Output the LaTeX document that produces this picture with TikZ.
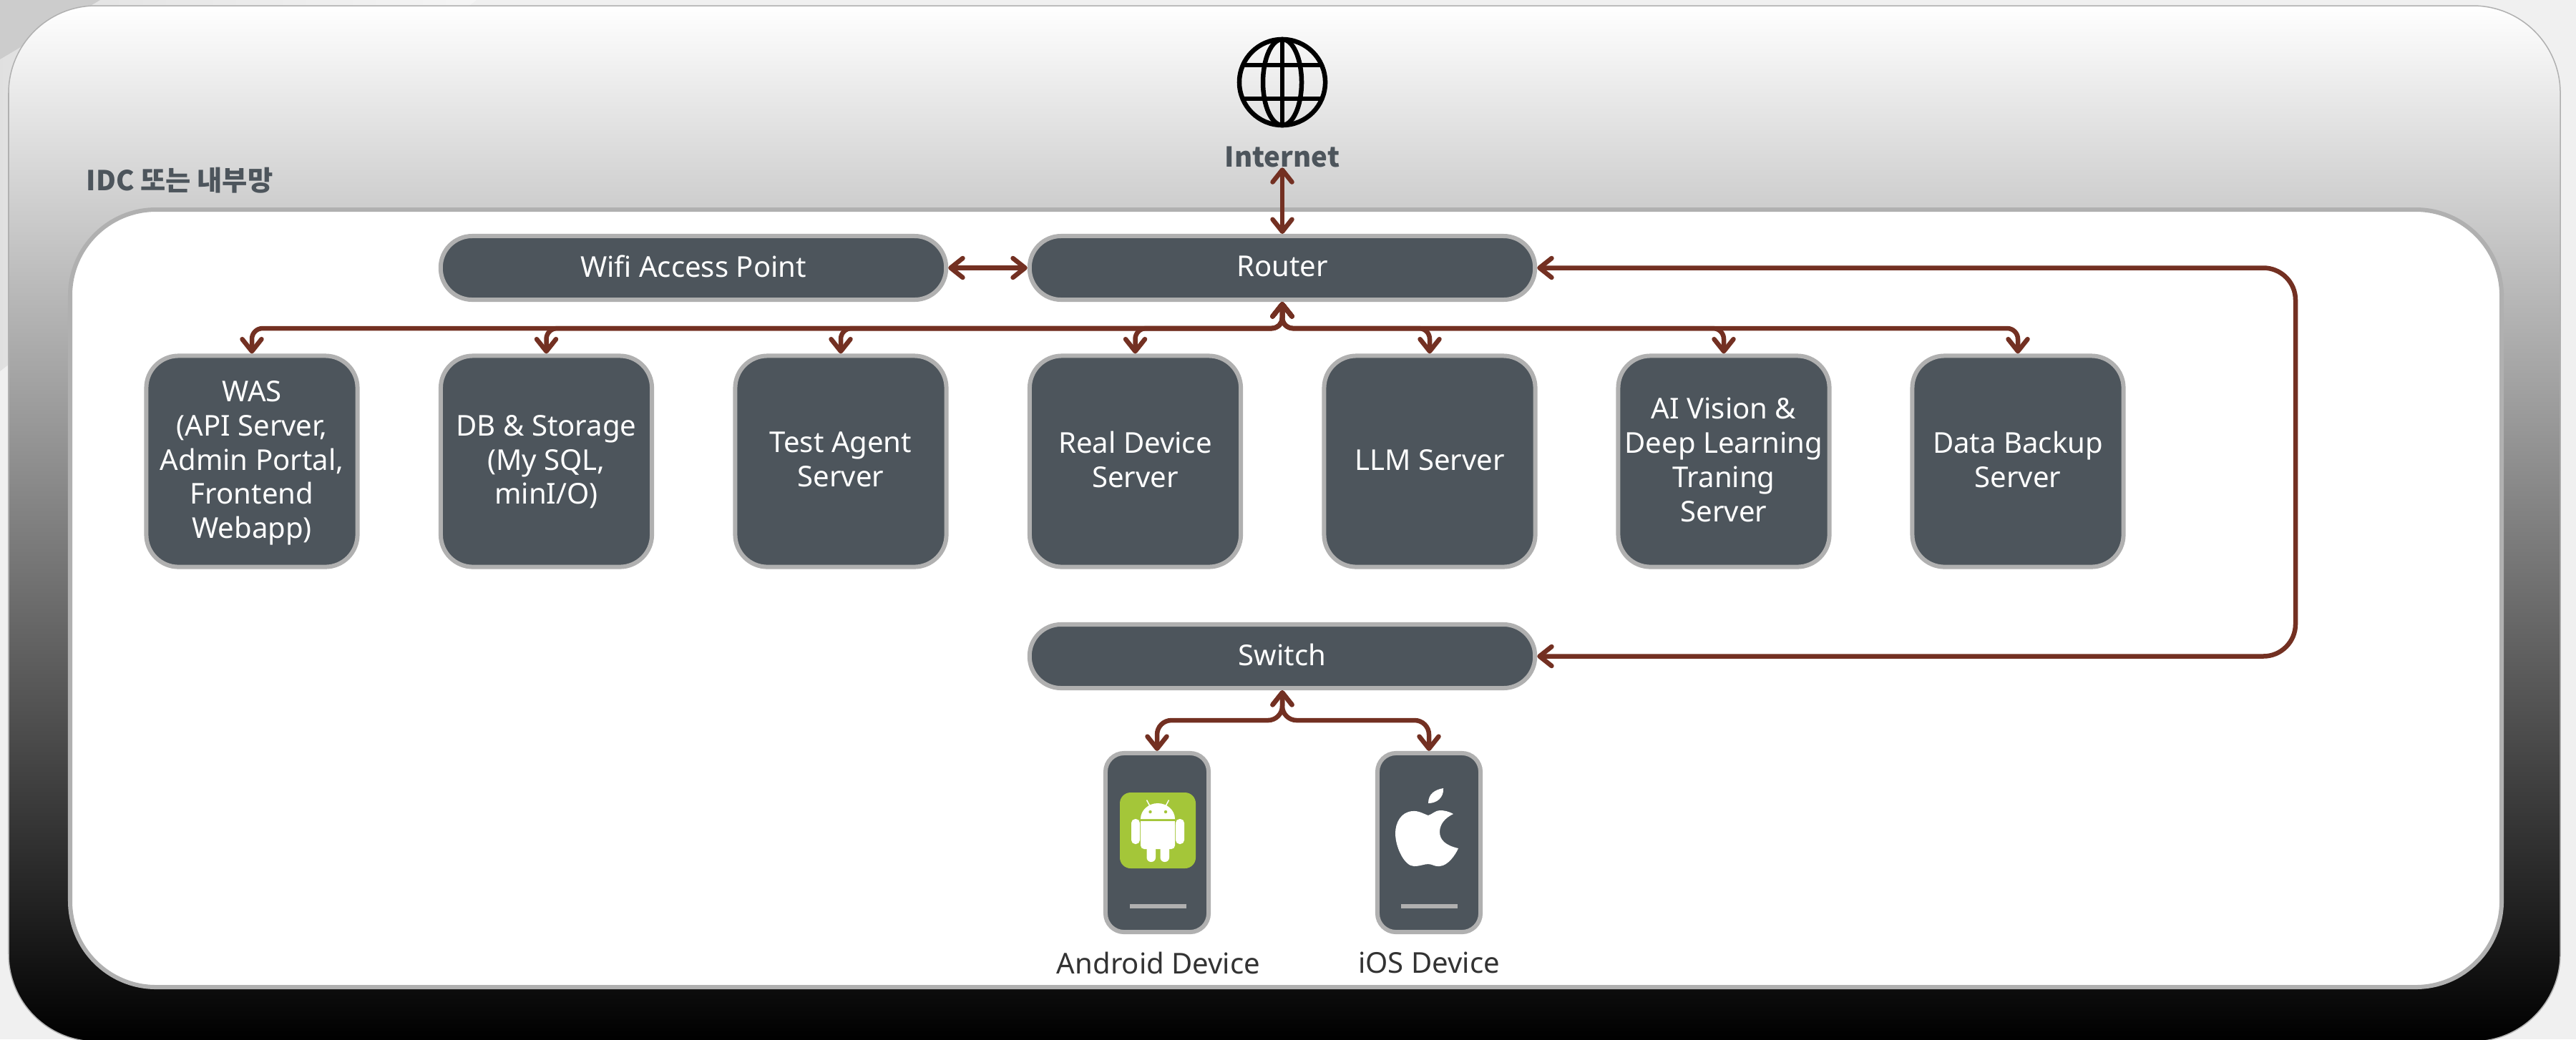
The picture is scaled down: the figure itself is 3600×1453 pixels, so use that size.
\documentclass[tikz,border=0pt]{standalone}
\usepackage{fontspec}
\setmainfont{Noto Sans}
\newfontfamily\cjk{Noto Sans CJK KR}
\usetikzlibrary{arrows.meta}
\definecolor{boxgray}{HTML}{4D555C}
\definecolor{rimgray}{HTML}{B0B0B0}
\definecolor{linkred}{HTML}{733022}
\definecolor{droidgreen}{HTML}{A4C639}

\begin{document}
\begin{tikzpicture}[x=0.01cm, y=-0.01cm,
    box/.style={draw=rimgray, fill=boxgray, line width=0.06cm, text=white, align=center,
                inner sep=0pt, text depth=0.05cm, font=\fontsize{11.4}{13.6}\selectfont},
    pill/.style={box, minimum width=7.06cm, minimum height=0.89cm, rounded corners=0.44cm},
    server/.style={box, minimum width=2.95cm, minimum height=2.95cm, rounded corners=0.45cm},
    phone/.style={box, minimum width=1.44cm, minimum height=2.5cm, rounded corners=0.26cm},
    homebar/.style={fill=rimgray, minimum width=0.79cm, minimum height=0.065cm, inner sep=0pt},
    caption/.style={text=boxgray, inner sep=0pt, font=\fontsize{10.9}{13}\selectfont\cjk\bfseries},
    devlabel/.style={text=black!80, inner sep=0pt, font=\fontsize{11.4}{13.6}\selectfont},
    link/.style={draw=linkred, line width=0.065cm, rounded corners=0.15cm,
                 {Straight Barb[length=0.17cm,width=0.27cm,round]}-{Straight Barb[length=0.17cm,width=0.27cm,round]}},
    ]
    \useasboundingbox (0,0) rectangle (3600,1453);
    \fill[black!6] (0,0) rectangle (3600,1453);
    \shade[left color=black!12, right color=black!4] (0,83) -- (140,0) -- (666,0) -- (0,519) -- cycle;    % band behind the panel
    \fill[black!20] (0,0) -- (140,0) -- (0,83) -- cycle;    % corner of the page
    \draw[rimgray, line width=0.015cm, top color=white, bottom color=black, rounded corners=1.22cm]
        (12,8) rectangle (3578,1456);
    \draw[rimgray, line width=0.06cm, fill=white, rounded corners=1.2cm]
        (98,293) rectangle (3496,1380);
    \node[caption, anchor=west] (idc) at (120,252) {IDC 또는 내부망};

    % globe
    \node[circle, draw=black, line width=0.065cm, minimum size=1.2cm, inner sep=0pt] (globe) at (1792,115) {};
    \draw[black, line width=0.065cm] (globe.center) ellipse (27 and 60);
    \draw[black, line width=0.065cm] (globe.north) -- (globe.south);
    \draw[black, line width=0.065cm] (1737,91) -- (1847,91) (1737,138) -- (1847,138);
    \node[caption] (internet) at (1792,219) {Internet};

    \node[pill] (wifi) at (969,374.5) {Wifi Access Point};
    \node[pill] (router) at (1792,374.5) {Router};
    \node[pill] (switch) at (1792,917.5) {Switch};

    \node[server] (was) at (352,645) {WAS\\(API Server,\\Admin Portal,\\Frontend\\Webapp)};
    \node[server] (db) at (763.5,645) {DB \& Storage\\(My SQL,\\minI/O)};
    \node[server] (agent) at (1175,645) {Test Agent\\Server};
    \node[server] (real) at (1586.5,645) {Real Device\\Server};
    \node[server] (llm) at (1998,645) {LLM Server};
    \node[server] (vision) at (2409,645) {AI Vision \&\\Deep Learning\\Traning\\Server};
    \node[server] (backup) at (2820,645) {Data Backup\\Server};

    \node[phone] (android) at (1617,1178) {};
    \node[phone] (ios) at (1997,1178) {};
    \node[homebar] (androidbar) at (1618,1267) {};
    \node[homebar] (iosbar) at (1997,1267) {};
    \node[devlabel] (androidlabel) at (1619,1346) {Android Device};
    \node[devlabel] (ioslabel) at (1997,1346) {iOS Device};

    % android icon
    \fill[droidgreen, rounded corners=0.15cm] (1565,1108) rectangle (1671,1214);
    \fill[white] (1594,1145) arc[start angle=180, end angle=360, x radius=24, y radius=22] -- cycle;
    \fill[white, rounded corners=0.05cm] (1594,1148) rectangle (1642,1187);
    \fill[white] (1594,1148) rectangle (1642,1175);
    \foreach \px in {1581,1643}
        \fill[white, rounded corners=0.055cm] (\px,1145) rectangle ++(12,35);
    \foreach \px in {1602.5,1621.5}
        \fill[white, rounded corners=0.06cm] (\px,1175) rectangle ++(12.5,30);
    \draw[white, line width=0.015cm] (1606.5,1126) -- (1602.5,1118.5) (1629.5,1126) -- (1633.5,1118.5);
    \fill[droidgreen] (1607.5,1135) circle (2.2) (1629,1135) circle (2.2);

    % apple icon
    \fill[white] (1996,1123) .. controls (1996,1110) and (2005,1104) .. (2017,1102)
        .. controls (2018,1115) and (2008,1123) .. cycle;
    \fill[white] (1996,1140) .. controls (1990,1138) and (1982,1133) .. (1974,1134)
        .. controls (1958,1135) and (1950,1150) .. (1950,1165)
        .. controls (1950,1185) and (1963,1211) .. (1976,1211)
        .. controls (1985,1211) and (1990,1208) .. (1996,1208)
        .. controls (2002,1208) and (2005,1212) .. (2012,1211)
        .. controls (2024,1210) and (2034,1195) .. (2038,1186)
        .. controls (2020,1182) and (2012,1174) .. (2012,1163)
        .. controls (2012,1152) and (2020,1143) .. (2031,1138)
        .. controls (2024,1134) and (2018,1133) .. (2012,1133)
        .. controls (2006,1133) and (2002,1138) .. cycle;

    % links
    \draw[link] (internet.south) -- (router.north);
    \draw[link] (wifi.east) -- (router.west);
    \foreach \target in {was,db,agent,real,llm,vision,backup}
        \draw[link] (router.south) -- ++(0,37) -| (\target.north);
    \foreach \target in {android,ios}
        \draw[link, rounded corners=0.2cm] (switch.south) -- ++(0,42) -| (\target.north);
    \coordinate (trunk) at (3208,646);
    \draw[link, rounded corners=0.45cm] (router.east) -| (trunk) |- (switch.east);
\end{tikzpicture}
\end{document}
